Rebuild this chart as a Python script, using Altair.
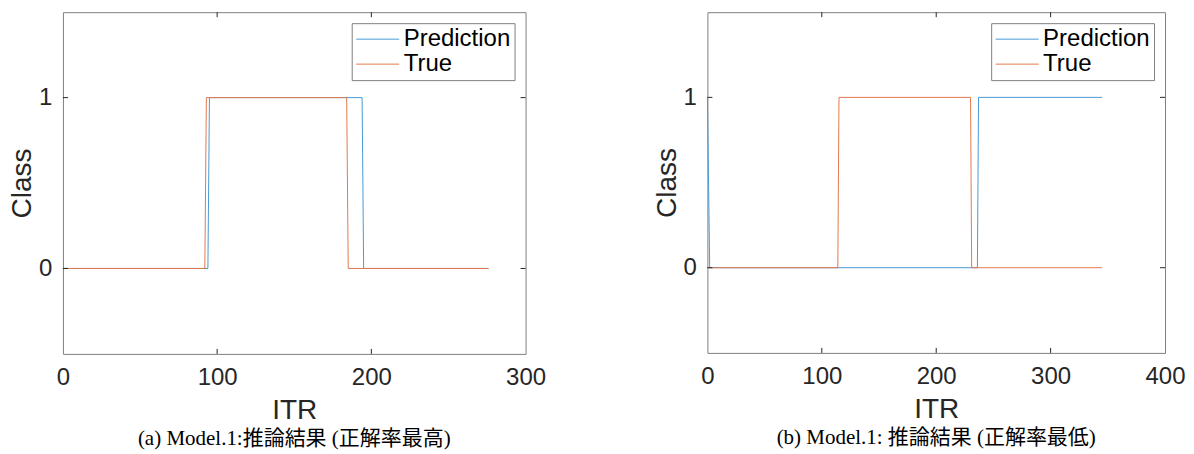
import altair as alt
import pandas as pd

# ---- data ----
series_names = ["Prediction", "True"]
series_colors = ["#4a9ad6", "#e2784c"]

# panel (a)
a_pred_x = [0, 94, 95, 194, 195, 276]
a_pred_y = [0, 0, 1, 1, 0, 0]
a_true_x = [0, 92, 93, 184, 185, 276]
a_true_y = [0, 0, 1, 1, 0, 0]
a_x_ticks = [0, 100, 200, 300]
a_x_max = 300

# panel (b)
b_pred_x = [0, 2, 236, 237, 345]
b_pred_y = [1, 0, 0, 1, 1]
b_true_x = [0, 114, 115, 230, 231, 345]
b_true_y = [0, 0, 1, 1, 0, 0]
b_x_ticks = [0, 100, 200, 300, 400]
b_x_max = 400

y_ticks = [0, 1]
y_domain = [-0.5, 1.5]
captions = ["(a) Model.1:推論結果 (正解率最高)", "(b) Model.1: 推論結果 (正解率最低)"]

LABEL_FONT = "Liberation Sans"
TXT = "#262626"
FRAME = "#7f7f7f"
TICK_LEN = 5
# legend line symbol: a path longer than the unit box so the row height stays small
LEGEND_LINE = "M-4,0H4"


def panel(pred_x, pred_y, true_x, true_y, x_max, x_ticks, caption, w, h):
    rows = []
    for name, xs, ys in (("Prediction", pred_x, pred_y), ("True", true_x, true_y)):
        for i, (xv, yv) in enumerate(zip(xs, ys)):
            rows.append({"s": name, "x": xv, "y": yv, "i": i})
    df = pd.DataFrame(rows)

    xsc = alt.Scale(domain=[0, x_max], nice=False, zero=False)
    ysc = alt.Scale(domain=y_domain, nice=False, zero=False)
    xaxis = alt.Axis(
        values=x_ticks, title="ITR", domain=False, ticks=False, tickSize=0,
        grid=False, labelFlush=False, labelOverlap=False,
        labelFontSize=24, labelFont=LABEL_FONT, labelColor=TXT,
        labelPadding=12, titleFontSize=28, titleFont=LABEL_FONT,
        titleFontWeight="normal", titleColor=TXT, titlePadding=7)
    yaxis = alt.Axis(
        values=y_ticks, title="Class", format="d", domain=False, ticks=False,
        tickSize=0, grid=False, labelFlush=False, labelOverlap=False,
        labelFontSize=24, labelFont=LABEL_FONT,
        labelColor=TXT, labelPadding=11, titleFontSize=28, titleFont=LABEL_FONT,
        titleFontWeight="normal", titleColor=TXT, titlePadding=2)

    lines = alt.Chart(df).mark_line(strokeWidth=1).encode(
        x=alt.X("x:Q", scale=xsc, axis=xaxis),
        y=alt.Y("y:Q", scale=ysc, axis=yaxis),
        color=alt.Color("s:N", scale=alt.Scale(domain=series_names, range=series_colors),
                        legend=alt.Legend(
                            title=None, orient="top-right", offset=11,
                            strokeColor=FRAME, fillColor="white", padding=4,
                            symbolType=LEGEND_LINE, symbolSize=116, symbolStrokeWidth=1,
                            symbolOffset=10, labelOffset=14,
                            labelFontSize=24, labelFont=LABEL_FONT, labelColor="black",
                            rowPadding=1)),
        order="i:Q",
    )

    inner_x = pd.DataFrame({"x": [t for t in x_ticks if 0 < t < x_max]})
    inner_y = pd.DataFrame({"y": y_ticks})

    bottom_ticks = alt.Chart(inner_x).mark_rule(color=TXT, strokeWidth=1).encode(
        x=alt.X("x:Q", scale=xsc, axis=xaxis), y=alt.value(h), y2=alt.value(h - TICK_LEN))
    top_ticks = alt.Chart(inner_x).mark_rule(color=TXT, strokeWidth=1).encode(
        x=alt.X("x:Q", scale=xsc, axis=xaxis), y=alt.value(0), y2=alt.value(TICK_LEN))
    left_ticks = alt.Chart(inner_y).mark_rule(color=TXT, strokeWidth=1).encode(
        y=alt.Y("y:Q", scale=ysc, axis=yaxis), x=alt.value(0), x2=alt.value(TICK_LEN))
    right_ticks = alt.Chart(inner_y).mark_rule(color=TXT, strokeWidth=1).encode(
        y=alt.Y("y:Q", scale=ysc, axis=yaxis), x=alt.value(w), x2=alt.value(w - TICK_LEN))

    return alt.layer(lines, bottom_ticks, top_ticks, left_ticks, right_ticks).properties(
        width=w, height=h,
        title=alt.TitleParams(caption, orient="bottom", fontSize=21,
                              font="Liberation Serif, Noto Sans CJK JP",
                              fontWeight="normal", color="black", offset=3),
    )


left = panel(a_pred_x, a_pred_y, a_true_x, a_true_y, a_x_max, a_x_ticks, captions[0], 463, 342)
right = panel(b_pred_x, b_pred_y, b_true_x, b_true_y, b_x_max, b_x_ticks, captions[1], 458, 341)

chart = alt.hconcat(left, right, spacing=182, bounds="flush").resolve_scale(
    color="independent", x="independent", y="independent"
).properties(
    padding={"left": 0, "top": 3, "right": 0, "bottom": 0}
).configure_view(stroke=FRAME, strokeWidth=1)

chart.save("out.html", embed_options={"renderer": "svg", "actions": False})
